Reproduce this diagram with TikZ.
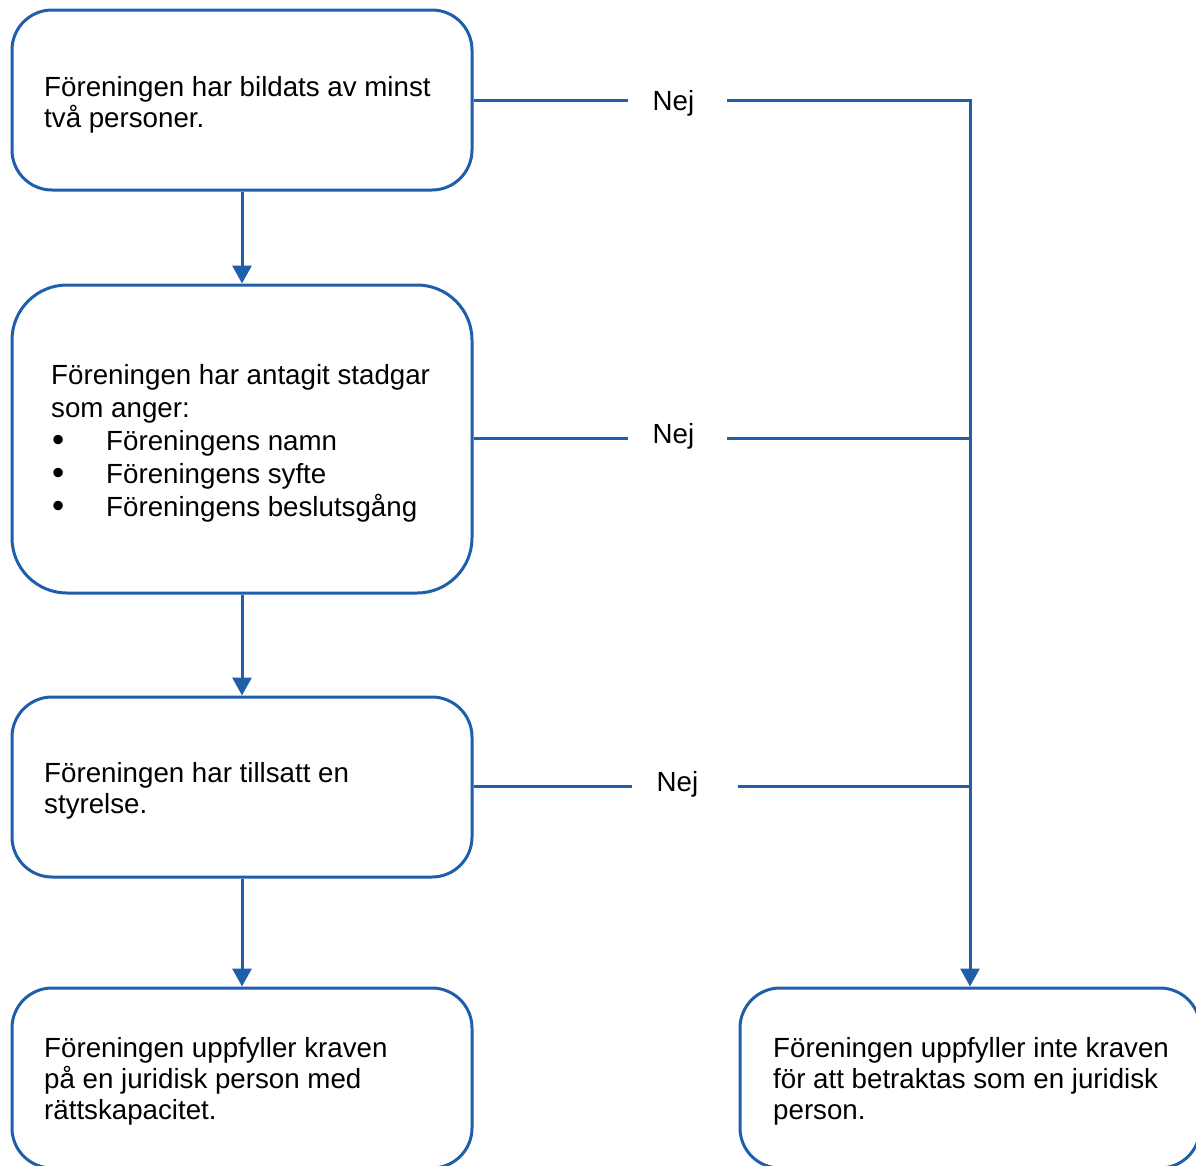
\documentclass[tikz,border=0pt]{standalone}
\usepackage{fontspec}
\setmainfont{Liberation Sans}
\usetikzlibrary{arrows.meta}
\definecolor{lc}{RGB}{31,94,170}
\newcommand{\bigbul}{\makebox[55pt][l]{\hspace{1pt}\raisebox{-1.5pt}{\scalebox{1.25}{\textbullet}}}}
\begin{document}
\begin{tikzpicture}[x=1pt,y=-1pt,
  box/.style={draw=lc, line width=3pt, rounded corners=40pt, inner sep=0pt,
    minimum width=460pt, fill=white},
  txt/.style={anchor=north west, inner sep=0pt, align=left,
    font=\fontsize{27.7pt}{31pt}\selectfont},
  nej/.style={anchor=base, inner sep=0pt, font=\fontsize{27.7pt}{31pt}\selectfont},
  conn/.style={draw=lc, line width=3pt},
  arr/.style={conn, -{Triangle[length=18pt,width=19pt]}}]
\useasboundingbox (0,0) rectangle (1196,1165);
% boxes
\node[box, minimum height=180pt] (b1) at (242,100) {};
\node[box, minimum height=308pt, rounded corners=55pt] (b2) at (242,439) {};
\node[box, minimum height=180pt] (b3) at (242,787) {};
\node[box, minimum height=180pt] (b4) at (242,1078) {};
\node[box, minimum height=180pt] (b5) at (970,1078) {};
% texts
\node[txt] (t1) at (44,72) {\rule{0pt}{24pt}Föreningen har bildats av minst\\två personer.};
\node[txt, font=\fontsize{27.7pt}{33pt}\selectfont] (t2) at (51,360)
  {\rule{0pt}{24pt}Föreningen har antagit stadgar\\
   som anger:\\
   \bigbul Föreningens namn\\
   \bigbul Föreningens syfte\\
   \bigbul Föreningens beslutsgång};
\node[txt] (t3) at (44,758) {\rule{0pt}{24pt}Föreningen har tillsatt en\\styrelse.};
\node[txt] (t4) at (44,1033) {\rule{0pt}{24pt}Föreningen uppfyller kraven\\på en juridisk person med\\rättskapacitet.};
\node[txt] (t5) at (773,1033) {\rule{0pt}{24pt}Föreningen uppfyller inte kraven\\för att betraktas som en juridisk\\person.};
% Nej labels
\node[nej] (n1) at (673.5,110) {Nej};
\node[nej] (n2) at (673.5,443) {Nej};
\node[nej] (n3) at (677.5,791) {Nej};
% connector points
\coordinate (a1) at (628,100);
\coordinate (c1) at (727,100);
\coordinate (j1) at (970,100);
\coordinate (a2) at (628,438);
\coordinate (c2) at (727,438);
\coordinate (j2) at (970,438);
\coordinate (a3) at (632,786);
\coordinate (c3) at (738,786);
\coordinate (j3) at (970,786);
% connectors
\draw[arr] (b1.south) -- (b2.north);
\draw[arr] (b2.south) -- (b3.north);
\draw[arr] (b3.south) -- (b4.north);
\draw[conn] (b1.east) -- (a1);
\draw[conn] (b2.east |- a2) -- (a2);
\draw[conn] (b3.east |- a3) -- (a3);
\draw[conn] (c2) -- (j2);
\draw[conn] (c3) -- (j3);
\draw[arr, line join=miter] (c1) -- (j1) -- (b5.north);
\end{tikzpicture}
\end{document}
